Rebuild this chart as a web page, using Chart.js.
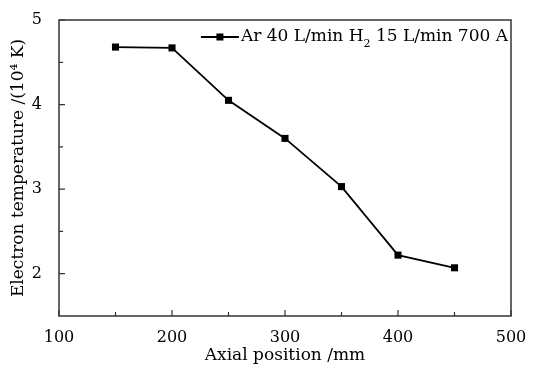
<!DOCTYPE html>
<html>
<head>
<meta charset="utf-8">
<script src="https://cdn.jsdelivr.net/npm/chart.js@4"></script>
<style>
  html, body { margin: 0; padding: 0; background: #fff; }
  #wrap { width: 535px; height: 370px; }
</style>
</head>
<body>
<div id="wrap"><canvas id="chart"></canvas></div>
<script>
const position = [150, 200, 250, 300, 350, 400, 450]; // mm
const temperature = [4.68, 4.67, 4.05, 3.60, 3.03, 2.22, 2.07]; // 10^4 K
const xTicks = [100, 200, 300, 400, 500];
const xMinor = [150, 250, 350, 450];
const yTicks = [2, 3, 4, 5];
const yMinor = [2.5, 3.5, 4.5];
const seriesLabel = ['Ar 40 L/min H', '2', ' 15 L/min 700 A'];

const FONT = "'DejaVu Serif', 'Liberation Serif', serif";

// frame + inward ticks + legend
const framePlugin = {
    id: 'frame',
    afterDraw(chart) {
        const { ctx, chartArea: a, scales } = chart;
        ctx.save();
        ctx.strokeStyle = '#333';
        ctx.lineWidth = 1.5;
        ctx.strokeRect(a.left, a.top, a.right - a.left, a.bottom - a.top);
        ctx.lineWidth = 1.2;
        ctx.beginPath();
        xTicks.forEach(v => {
            const x = scales.x.getPixelForValue(v);
            ctx.moveTo(x, a.bottom); ctx.lineTo(x, a.bottom - 6);
        });
        xMinor.forEach(v => {
            const x = scales.x.getPixelForValue(v);
            ctx.moveTo(x, a.bottom); ctx.lineTo(x, a.bottom - 4);
        });
        yTicks.forEach(v => {
            const y = scales.y.getPixelForValue(v);
            ctx.moveTo(a.left, y); ctx.lineTo(a.left + 6, y);
        });
        yMinor.forEach(v => {
            const y = scales.y.getPixelForValue(v);
            ctx.moveTo(a.left, y); ctx.lineTo(a.left + 4, y);
        });
        ctx.stroke();

        // legend (text ends near the right edge)
        ctx.font = '17px ' + FONT;
        const w0 = ctx.measureText(seriesLabel[0]).width;
        const w2 = ctx.measureText(seriesLabel[2]).width;
        ctx.font = '11px ' + FONT;
        const w1 = ctx.measureText(seriesLabel[1]).width;
        const ly = a.top + 17;
        let tx = a.right - 3 - (w0 + w1 + w2);
        const lx = tx - 40;
        ctx.strokeStyle = '#000';
        ctx.lineWidth = 1.8;
        ctx.beginPath();
        ctx.moveTo(lx, ly); ctx.lineTo(lx + 38, ly);
        ctx.stroke();
        ctx.fillStyle = '#000';
        ctx.fillRect(lx + 19 - 3.5, ly - 3.5, 7, 7);
        ctx.textBaseline = 'middle';
        ctx.font = '17px ' + FONT;
        ctx.fillText(seriesLabel[0], tx, ly);
        tx += w0;
        ctx.font = '11px ' + FONT;
        ctx.fillText(seriesLabel[1], tx, ly + 7);
        tx += w1;
        ctx.font = '17px ' + FONT;
        ctx.fillText(seriesLabel[2], tx, ly);
        ctx.restore();
    }
};

new Chart(document.getElementById('chart'), {
    type: 'line',
    data: {
        datasets: [{
            label: seriesLabel.join(''),
            data: position.map((p, i) => ({ x: p, y: temperature[i] })),
            borderColor: '#000',
            backgroundColor: '#000',
            borderWidth: 1.8,
            pointStyle: 'rect',
            pointRadius: 5,
            pointBorderWidth: 0,
            tension: 0
        }]
    },
    options: {
        responsive: true,
        maintainAspectRatio: false,
        animation: false,
        layout: { padding: { top: 20, right: 24, left: 0, bottom: 0 } },
        plugins: {
            legend: { display: false },
            tooltip: { enabled: false }
        },
        scales: {
            x: {
                type: 'linear',
                min: 100,
                max: 500,
                afterBuildTicks: s => { s.ticks = xTicks.map(v => ({ value: v })); },
                afterFit: s => { s.height = 54; },
                grid: { display: false },
                border: { display: false },
                ticks: { color: '#000', font: { family: FONT, size: 16 }, padding: 4, maxRotation: 0 },
                title: { display: true, text: 'Axial position /mm', color: '#000', font: { family: FONT, size: 17 }, padding: { top: 3 } }
            },
            y: {
                type: 'linear',
                min: 1.5,
                max: 5,
                afterBuildTicks: s => { s.ticks = yTicks.map(v => ({ value: v })); },
                afterFit: s => { s.width = 59; },
                grid: { display: false },
                border: { display: false },
                ticks: { color: '#000', font: { family: FONT, size: 16 }, padding: 9 },
                title: { display: true, text: 'Electron temperature /(10⁴ K)', color: '#000', font: { family: FONT, size: 17 }, padding: { top: 8, bottom: 0 } }
            }
        }
    },
    plugins: [framePlugin]
});
</script>
</body>
</html>
